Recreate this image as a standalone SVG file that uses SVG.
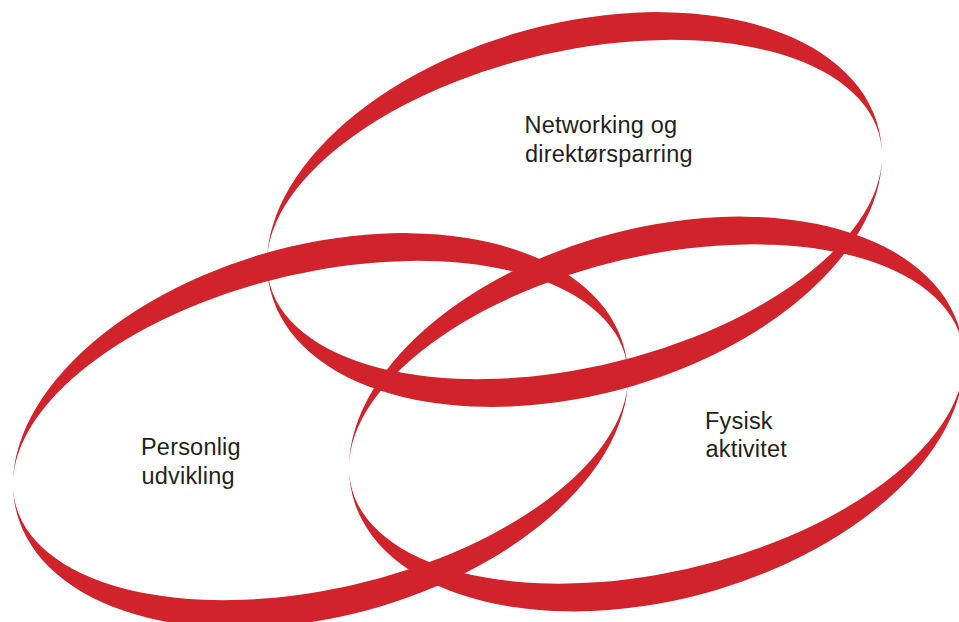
<svg xmlns="http://www.w3.org/2000/svg" xmlns:xlink="http://www.w3.org/1999/xlink" width="959" height="622" viewBox="0 0 959 622">
  <style>
    .ring { fill: #D0232B; fill-rule: evenodd; }
    .label { font-family: "Liberation Sans", Arial, sans-serif; font-size: 23.5px; fill: #231F20; letter-spacing: 0.2px; }
  </style>
  <defs>
    <path id="ribbon" class="ring" d="M -307.5 0 A 307.5 190 0 1 0 307.5 0 A 307.5 190 0 1 0 -307.5 0 Z M -307.5 0 A 307.5 161 0 1 0 307.5 0 A 307.5 161 0 1 0 -307.5 0 Z"/>
  </defs>
  <rect width="959" height="622" fill="#FFFFFF"/>
  <g id="node-networking">
    <use xlink:href="#ribbon" href="#ribbon" transform="translate(574.5 209.5) matrix(1 -0.174 0 1 0 0)"/>
  </g>
  <g id="node-personlig">
    <use xlink:href="#ribbon" href="#ribbon" transform="translate(320.5 430.5) matrix(1 -0.174 0 1 0 0)"/>
  </g>
  <g id="node-fysisk">
    <use xlink:href="#ribbon" href="#ribbon" transform="translate(656.5 414) matrix(1 -0.174 0 1 0 0)"/>
  </g>
  <g id="labels">
    <text class="label" x="524.5" y="133">Networking og</text>
    <text class="label" x="525" y="162">direktørsparring</text>
    <text class="label" x="141" y="454.5">Personlig</text>
    <text class="label" x="141.5" y="483.5">udvikling</text>
    <text class="label" x="705" y="428.5">Fysisk</text>
    <text class="label" x="705.5" y="457">aktivitet</text>
  </g>
  <g id="connectors"></g>
</svg>
